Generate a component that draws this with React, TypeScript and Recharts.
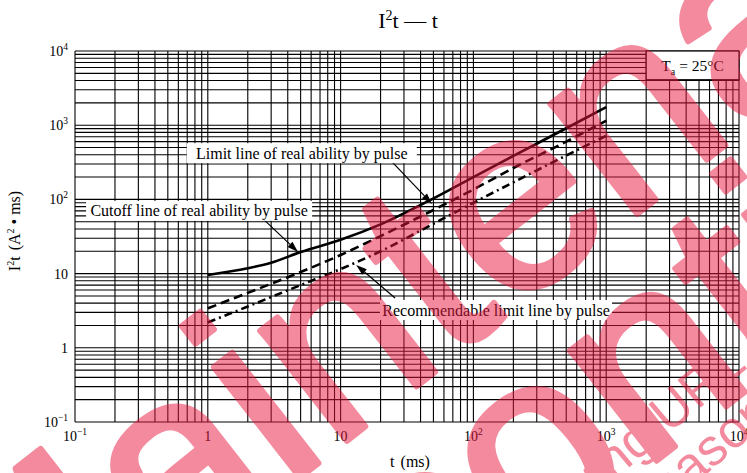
import React from "react";
import {
  LineChart,
  Line,
  XAxis,
  YAxis,
  CartesianGrid,
  ReferenceLine,
  ReferenceDot,
  ReferenceArea,
} from "recharts";

// t (ms) against I²t (A²·ms)
const cutoffT = [1, 2, 3, 5, 10, 20, 50, 100, 200, 500, 1000];
const cutoffI2t = [9.6, 11.8, 14, 19.5, 28.5, 46, 103, 200, 385, 910, 1750];

const limitT = [1, 2, 5, 10, 20, 50, 100, 200, 500, 1000];
const limitI2t = [3.4, 5.5, 10.5, 17.8, 32, 72, 136, 265, 600, 1150];

const recommendT = [1, 2, 5, 10, 20, 50, 100, 200, 500, 1000];
const recommendI2t = [2.2, 3.6, 7, 11.5, 20, 47, 90, 170, 390, 720];

const decadeTicks = [0.1, 1, 10, 100, 1000, 10000];

const SERIF = "'Liberation Serif', 'Times New Roman', serif";

const toPoints = (ts: number[], vs: number[]) => ts.map((t, i) => ({ t, v: vs[i] }));

// 1..9 in every decade, the usual log paper
const logGrid: number[] = [];
decadeTicks.slice(0, -1).forEach((d) => {
  for (let m = 1; m < 10; m++) logGrid.push(d * m);
});
logGrid.push(decadeTicks[decadeTicks.length - 1]);

function PowerText({ x, y, value, anchor }: { x: number; y: number; value: number; anchor: string }) {
  const e = Math.round(Math.log10(value));
  return (
    <text x={x} y={y} textAnchor={anchor} fontFamily={SERIF} fontSize={14} fill="#000">
      {e === 0 ? "1" : "10"}
      {e !== 0 && e !== 1 && (
        <tspan dy={-6} fontSize={9.5}>
          {e < 0 ? "\u2212" + -e : String(e)}
        </tspan>
      )}
    </text>
  );
}

const XTick = (p: any) => <PowerText x={p.x} y={p.y + 19} value={p.payload.value} anchor="middle" />;
const YTick = (p: any) => <PowerText x={p.x} y={p.y + 5} value={p.payload.value} anchor="end" />;

const noteBox = (text: string, w: number) => (p: any) => (
  <g>
    <rect x={p.cx - w / 2} y={p.cy - 10} width={w} height={20} fill="#fff" />
    <text x={p.cx} y={p.cy + 5.5} textAnchor="middle" fontFamily={SERIF} fontSize={16} fill="#000">
      {text}
    </text>
  </g>
);

const arrow = (p: any) => {
  const { x1, y1, x2, y2 } = p;
  const a = Math.atan2(y2 - y1, x2 - x1);
  const len = 11;
  const half = 3.5;
  const bx = x2 - len * Math.cos(a);
  const by = y2 - len * Math.sin(a);
  const nx = -Math.sin(a) * half;
  const ny = Math.cos(a) * half;
  return (
    <g>
      <line x1={x1} y1={y1} x2={bx} y2={by} stroke="#000" strokeWidth={1.2} />
      <polygon points={`${x2},${y2} ${bx + nx},${by + ny} ${bx - nx},${by - ny}`} fill="#000" />
    </g>
  );
};

const taBox = (p: any) => (
  <g>
    <rect x={p.x} y={p.y} width={p.width} height={p.height} fill="#fff" stroke="#000" strokeWidth={1.2} />
    <text x={p.x + p.width / 2} y={p.y + p.height / 2 + 5.5} textAnchor="middle" fontFamily={SERIF} fontSize={15.5} fill="#000">
      T<tspan dy={4} fontSize={10}>a</tspan>
      <tspan dy={-4}> = 25°C</tspan>
    </text>
  </g>
);

export default function App() {
  return (
    <div style={{ position: "absolute", left: 0, top: 0, width: 747, height: 473, background: "#fff" }}>
      <LineChart width={747} height={473} margin={{ top: 51, right: 8, bottom: 21, left: 15 }}>
        <CartesianGrid
          stroke="#000"
          strokeWidth={1.1}
          horizontalValues={logGrid}
          verticalValues={logGrid}
        />
        <XAxis
          dataKey="t"
          type="number"
          scale="log"
          domain={[0.1, 10000]}
          ticks={decadeTicks}
          interval={0}
          allowDataOverflow
          axisLine={false}
          tickLine={false}
          tickSize={0}
          tickMargin={0}
          height={30}
          tick={XTick}
        />
        <YAxis
          dataKey="v"
          type="number"
          scale="log"
          domain={[0.1, 10000]}
          ticks={decadeTicks}
          interval={0}
          allowDataOverflow
          axisLine={false}
          tickLine={false}
          tickSize={0}
          tickMargin={7}
          width={60}
          tick={YTick}
        />
        <ReferenceArea x1={2000} x2={10000} y1={4100} y2={10000} shape={taBox} />
        <ReferenceDot x={5.1} y={420} r={0} shape={noteBox("Limit line of real ability by pulse", 230)} />
        <ReferenceDot x={0.86} y={70} r={0} shape={noteBox("Cutoff line of real ability by pulse", 226)} />
        <ReferenceDot x={148} y={3.23} r={0} shape={noteBox("Recommendable limit line by pulse", 232)} />
        <ReferenceLine segment={[{ x: 24.4, y: 321 }, { x: 48.8, y: 87 }]} shape={arrow} />
        <ReferenceLine segment={[{ x: 2.56, y: 56.3 }, { x: 4.78, y: 19.6 }]} shape={arrow} />
        <ReferenceLine segment={[{ x: 25.7, y: 4.69 }, { x: 13.1, y: 13.1 }]} shape={arrow} />
        <Line
          data={toPoints(cutoffT, cutoffI2t)}
          dataKey="v"
          type="monotone"
          stroke="#000"
          strokeWidth={2.6}
          dot={false}
          isAnimationActive={false}
        />
        <Line
          data={toPoints(limitT, limitI2t)}
          dataKey="v"
          type="monotone"
          stroke="#000"
          strokeWidth={2.6}
          strokeDasharray="9 5"
          dot={false}
          isAnimationActive={false}
        />
        <Line
          data={toPoints(recommendT, recommendI2t)}
          dataKey="v"
          type="monotone"
          stroke="#000"
          strokeWidth={2.6}
          strokeDasharray="8 4 2 4"
          dot={false}
          isAnimationActive={false}
        />
      </LineChart>
      <svg
        width={747}
        height={473}
        style={{ position: "absolute", left: 0, top: 0, pointerEvents: "none" }}
      >
        <text x={408} y={28} textAnchor="middle" fontFamily={SERIF} fontSize={22} fill="#000">
          I<tspan dy={-8} fontSize={14}>2</tspan>
          <tspan dy={8}>t — t</tspan>
        </text>
        <text x={410} y={467} textAnchor="middle" fontFamily={SERIF} fontSize={16} fill="#000">
          t<tspan dx={6}>(ms)</tspan>
        </text>
        <text
          transform="translate(20 231) rotate(-90)"
          textAnchor="middle"
          fontFamily={SERIF}
          fontSize={16}
          fill="#000"
        >
          I<tspan dy={-6} fontSize={10}>2</tspan>
          <tspan dy={6}>t</tspan>
          <tspan dx={6}>(A</tspan>
          <tspan dy={-6} fontSize={10}>2</tspan>
          <tspan dy={6}> • ms)</tspan>
        </text>
        <g opacity={0.5} fill="#e8173f" fontFamily="'Liberation Sans', Arial, sans-serif">
          <g stroke="#e8173f" strokeWidth={6} strokeLinejoin="round">
            <text transform="translate(-4 715) rotate(-38)" fontSize={265}>
              Maintenance/
            </text>
            <text transform="translate(120 880) rotate(-38)" fontSize={265}>
              Discontinued
            </text>
          </g>
          <text transform="translate(290 752) rotate(-40)" fontSize={52}>
            Please visit following URL about latest information.
          </text>
          <text transform="translate(654 518) rotate(-40)" fontSize={52}>
            reason
          </text>
        </g>
      </svg>
    </div>
  );
}
